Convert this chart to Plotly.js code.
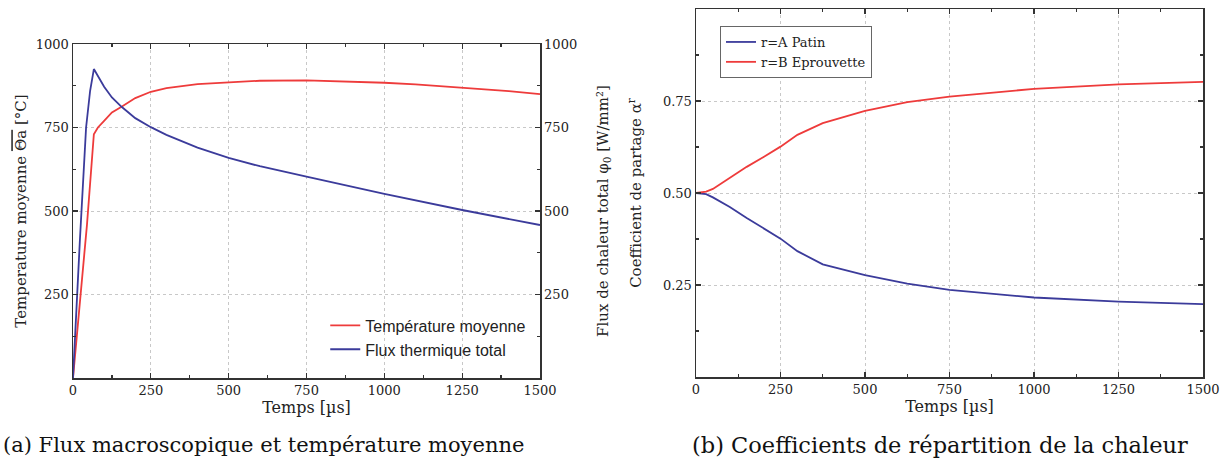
<!DOCTYPE html>
<html>
<head>
<meta charset="utf-8">
<script src="https://cdn.plot.ly/plotly-3.0.1.min.js"></script>
<style>html,body{margin:0;padding:0;background:#fff;}#chart{width:1232px;height:464px;}</style>
</head>
<body>
<div id="chart"></div>
<script>
// ---- (a) Flux macroscopique et température moyenne ----
const tempTime = [0, 25, 45, 67, 80, 100, 125, 156, 200, 250, 300, 400, 500, 600, 750, 900, 1000, 1100, 1250, 1400, 1500];
const tempMoyenne = [0, 250, 460, 730, 750, 770, 795, 812, 838, 857, 868, 880, 886, 890, 891, 888, 884, 879, 870, 859, 850];
const fluxTime = [0, 10, 22, 42, 55, 67, 80, 100, 125, 156, 200, 250, 300, 400, 500, 600, 750, 900, 1000, 1250, 1500];
const fluxTotal = [0, 190, 410, 750, 860, 925, 905, 872, 840, 812, 778, 751, 728, 690, 659, 634, 603, 572, 551, 503, 458];

// ---- (b) Coefficients de répartition de la chaleur ----
const coefTime = [0, 30, 50, 100, 150, 200, 250, 300, 375, 500, 625, 750, 1000, 1250, 1500];
const coefPatin = [0.5, 0.497, 0.488, 0.462, 0.432, 0.404, 0.376, 0.342, 0.306, 0.277, 0.254, 0.237, 0.216, 0.205, 0.198];
const coefEprouvette = [0.5, 0.504, 0.511, 0.542, 0.571, 0.598, 0.626, 0.658, 0.690, 0.723, 0.747, 0.762, 0.783, 0.795, 0.802];

const xTicks = [0, 250, 500, 750, 1000, 1250, 1500];
const leftYTicks = [0, 250, 500, 750, 1000];
const leftYText = ['', '250', '500', '750', '1000'];
const rightYTicks = [0, 0.25, 0.5, 0.75, 1];
const rightYText = ['', '0.25', '0.50', '0.75', ''];

const RED = '#ee3b3b';
const BLUE = '#3b3b9b';
const AX = '#333333';
const serif = '"DejaVu Serif", serif';
const tickFont = {family: serif, size: 13, color: '#222'};
const titleFont = {family: serif, size: 15, color: '#222'};

function axisBase(extra) {
  return Object.assign({
    showline: true, linecolor: AX, linewidth: 1.5,
    ticks: 'inside', ticklen: 5, tickwidth: 1.2, tickcolor: AX,
    showgrid: true, gridcolor: '#c8c8c8', griddash: 'dot', gridwidth: 1,
    zeroline: false, tickfont: tickFont, fixedrange: true
  }, extra);
}

const traces = [
  {x: tempTime, y: tempMoyenne, xaxis: 'x', yaxis: 'y', mode: 'lines', name: 'Température moyenne',
   line: {color: RED, width: 1.8}, legend: 'legend'},
  {x: fluxTime, y: fluxTotal, xaxis: 'x', yaxis: 'y2', mode: 'lines', name: 'Flux thermique total',
   line: {color: BLUE, width: 1.8}, legend: 'legend'},
  {x: coefTime, y: coefPatin, xaxis: 'x2', yaxis: 'y3', mode: 'lines', name: 'r=A Patin',
   line: {color: BLUE, width: 1.8}, legend: 'legend2'},
  {x: coefTime, y: coefEprouvette, xaxis: 'x2', yaxis: 'y3', mode: 'lines', name: 'r=B Eprouvette',
   line: {color: RED, width: 1.8}, legend: 'legend2'}
];

const layout = {
  width: 1232, height: 464,
  margin: {l: 0, r: 0, t: 0, b: 0},
  paper_bgcolor: '#fff', plot_bgcolor: '#fff',
  showlegend: true,
  xaxis: axisBase({domain: [73/1232, 540/1232], range: [0, 1500], anchor: 'y', mirror: 'ticks',
    tickmode: 'array', tickvals: xTicks,
    minor: {dtick: 125, tick0: 0, ticks: 'inside', ticklen: 3, tickcolor: AX, showgrid: false},
    title: {text: 'Temps [µs]', font: {family: serif, size: 16, color: '#222'}, standoff: 2}}),
  yaxis: axisBase({domain: [(464-378)/464, (464-44)/464], range: [0, 1000], anchor: 'x',
    tickmode: 'array', tickvals: leftYTicks, ticktext: leftYText,
    minor: {dtick: 125, tick0: 0, ticks: 'inside', ticklen: 3, tickcolor: AX, showgrid: false},
    title: {text: 'Temperature moyenne <span style="text-decoration:overline">Θa</span> [°C]', font: titleFont, standoff: 5}}),
  yaxis2: axisBase({overlaying: 'y', side: 'right', range: [0, 1000], anchor: 'x', showgrid: false,
    tickmode: 'array', tickvals: leftYTicks, ticktext: leftYText,
    minor: {dtick: 125, tick0: 0, ticks: 'inside', ticklen: 3, tickcolor: AX, showgrid: false},
    title: {text: 'Flux de chaleur total φ<sub>0</sub> [W/mm²]', font: titleFont, standoff: 21}}),
  xaxis2: axisBase({domain: [696/1232, 1203/1232], range: [0, 1500], anchor: 'y3', mirror: 'ticks',
    tickmode: 'array', tickvals: xTicks,
    minor: {dtick: 125, tick0: 0, ticks: 'inside', ticklen: 3, tickcolor: AX, showgrid: false},
    title: {text: 'Temps [µs]', font: {family: serif, size: 16, color: '#222'}, standoff: 2}}),
  yaxis3: axisBase({domain: [(464-377)/464, (464-9)/464], range: [0, 1], anchor: 'x2', mirror: 'ticks',
    tickmode: 'array', tickvals: rightYTicks, ticktext: rightYText,
    minor: {dtick: 0.125, tick0: 0, ticks: 'inside', ticklen: 3, tickcolor: AX, showgrid: false},
    title: {text: 'Coefficient de partage α<sup>r</sup>', font: titleFont, standoff: 17}}),
  legend: {x: 0.264, y: 0.335, xanchor: 'left', yanchor: 'top', bgcolor: 'rgba(0,0,0,0)',
    borderwidth: 0, font: {family: '"Liberation Sans", Arial, sans-serif', size: 16, color: '#222'},
    tracegroupgap: 0, itemwidth: 30},
  legend2: {x: 720/1232, y: (464-26)/464, xanchor: 'left', yanchor: 'top', bgcolor: '#fff',
    bordercolor: '#666', borderwidth: 1, font: {family: serif, size: 13, color: '#222'},
    tracegroupgap: 0, itemwidth: 30},
  annotations: [
    {text: '(a) Flux macroscopique et température moyenne', xref: 'paper', yref: 'paper',
     x: 263/1232, y: 19/464, xanchor: 'center', yanchor: 'middle', showarrow: false,
     font: {family: serif, size: 21, color: '#111'}},
    {text: '(b) Coefficients de répartition de la chaleur', xref: 'paper', yref: 'paper',
     x: 940/1232, y: 19/464, xanchor: 'center', yanchor: 'middle', showarrow: false,
     font: {family: serif, size: 22.5, color: '#111'}}
  ]
};

Plotly.newPlot('chart', traces, layout, {displayModeBar: false, staticPlot: true});
</script>
</body>
</html>
